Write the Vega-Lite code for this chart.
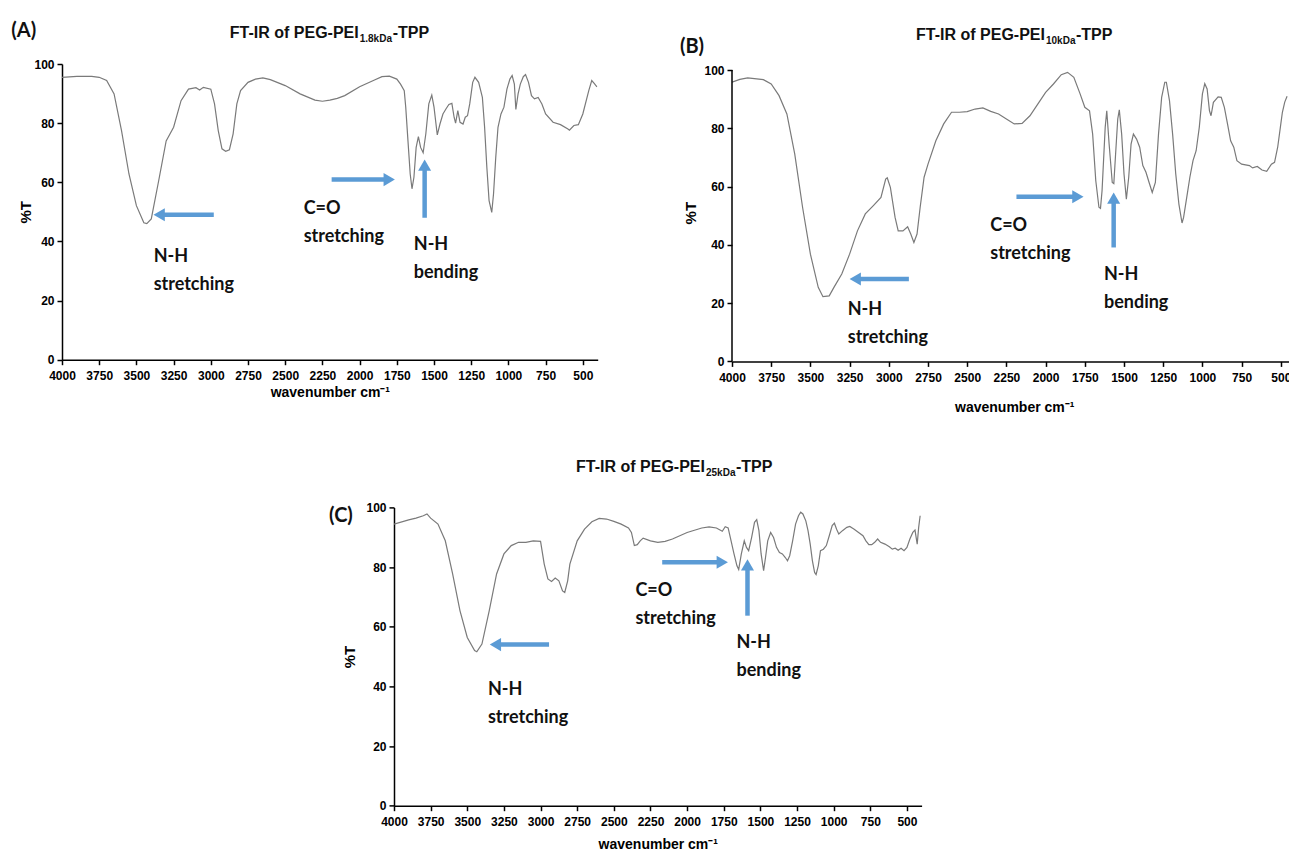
{
  "$schema": "https://vega.github.io/schema/vega-lite/v6.json",
  "background": "white",
  "padding": {"left": 11, "top": 20, "right": 0, "bottom": 4},
  "bounds": "flush",
  "spacing": 443.4,
  "config": {
    "view": {"stroke": null},
    "axis": {
      "grid": false,
      "domainColor": "black",
      "domainWidth": 1.5,
      "tickColor": "black",
      "tickWidth": 1.5,
      "tickSize": 5,
      "labelColor": "black",
      "labelFont": "Liberation Sans",
      "labelFontWeight": "bold",
      "labelFontSize": 12,
      "titleColor": "black",
      "titleFont": "Liberation Sans",
      "titleFontWeight": "bold",
      "labelOverlap": false,
      "labelFlush": false
    }
  },
  "datasets": {
    "specA": [
      {"wn": 4000, "T": 95.5}, {"wn": 3900, "T": 95.8}, {"wn": 3800, "T": 95.8}, {"wn": 3750, "T": 95.5},
      {"wn": 3700, "T": 94.4}, {"wn": 3650, "T": 89.9}, {"wn": 3600, "T": 77.5}, {"wn": 3550, "T": 62.8},
      {"wn": 3500, "T": 52.1}, {"wn": 3450, "T": 46.3}, {"wn": 3430, "T": 46.0}, {"wn": 3400, "T": 47.6},
      {"wn": 3350, "T": 60.6}, {"wn": 3300, "T": 74.0}, {"wn": 3250, "T": 78.6}, {"wn": 3200, "T": 87.6},
      {"wn": 3150, "T": 91.5}, {"wn": 3100, "T": 92.0}, {"wn": 3075, "T": 91.2}, {"wn": 3050, "T": 92.1},
      {"wn": 3000, "T": 91.5}, {"wn": 2975, "T": 86.5}, {"wn": 2950, "T": 77.5}, {"wn": 2925, "T": 71.3},
      {"wn": 2900, "T": 70.5}, {"wn": 2875, "T": 71.0}, {"wn": 2850, "T": 76.4}, {"wn": 2825, "T": 86.5},
      {"wn": 2800, "T": 91.0}, {"wn": 2750, "T": 93.8}, {"wn": 2700, "T": 94.9}, {"wn": 2650, "T": 95.3},
      {"wn": 2600, "T": 94.7}, {"wn": 2500, "T": 92.7}, {"wn": 2400, "T": 89.9}, {"wn": 2300, "T": 87.8},
      {"wn": 2250, "T": 87.4}, {"wn": 2200, "T": 87.8}, {"wn": 2150, "T": 88.4}, {"wn": 2100, "T": 89.3},
      {"wn": 2000, "T": 92.3}, {"wn": 1900, "T": 94.6}, {"wn": 1850, "T": 95.7}, {"wn": 1800, "T": 95.9},
      {"wn": 1750, "T": 94.9}, {"wn": 1725, "T": 93.2}, {"wn": 1700, "T": 91.0}, {"wn": 1690, "T": 85.4},
      {"wn": 1675, "T": 74.0}, {"wn": 1660, "T": 62.8}, {"wn": 1648, "T": 57.8}, {"wn": 1635, "T": 61.7},
      {"wn": 1620, "T": 71.8}, {"wn": 1605, "T": 75.4}, {"wn": 1590, "T": 71.8}, {"wn": 1573, "T": 70.0},
      {"wn": 1555, "T": 76.4}, {"wn": 1535, "T": 86.5}, {"wn": 1515, "T": 89.5}, {"wn": 1500, "T": 85.4},
      {"wn": 1478, "T": 76.0}, {"wn": 1460, "T": 79.7}, {"wn": 1440, "T": 83.1}, {"wn": 1420, "T": 84.8},
      {"wn": 1400, "T": 86.3}, {"wn": 1380, "T": 86.7}, {"wn": 1365, "T": 82.0}, {"wn": 1355, "T": 80.0},
      {"wn": 1340, "T": 84.2}, {"wn": 1325, "T": 80.3}, {"wn": 1305, "T": 79.7}, {"wn": 1290, "T": 82.0},
      {"wn": 1275, "T": 82.5}, {"wn": 1260, "T": 86.5}, {"wn": 1240, "T": 93.8}, {"wn": 1225, "T": 95.5},
      {"wn": 1200, "T": 93.8}, {"wn": 1175, "T": 88.7}, {"wn": 1160, "T": 78.6}, {"wn": 1145, "T": 65.1},
      {"wn": 1130, "T": 53.8}, {"wn": 1112, "T": 49.8}, {"wn": 1100, "T": 56.1}, {"wn": 1085, "T": 68.5},
      {"wn": 1070, "T": 78.6}, {"wn": 1050, "T": 83.1}, {"wn": 1030, "T": 85.4}, {"wn": 1010, "T": 91.5},
      {"wn": 990, "T": 94.9}, {"wn": 975, "T": 96.1}, {"wn": 960, "T": 93.2}, {"wn": 950, "T": 84.6},
      {"wn": 935, "T": 89.9}, {"wn": 920, "T": 93.2}, {"wn": 900, "T": 95.7}, {"wn": 885, "T": 96.4},
      {"wn": 865, "T": 93.8}, {"wn": 845, "T": 89.3}, {"wn": 825, "T": 88.2}, {"wn": 800, "T": 88.7},
      {"wn": 775, "T": 86.5}, {"wn": 750, "T": 83.1}, {"wn": 700, "T": 80.3}, {"wn": 650, "T": 79.5},
      {"wn": 600, "T": 78.0}, {"wn": 590, "T": 77.6}, {"wn": 560, "T": 79.2}, {"wn": 530, "T": 79.5},
      {"wn": 500, "T": 83.1}, {"wn": 460, "T": 91.0}, {"wn": 440, "T": 94.4}, {"wn": 425, "T": 93.5},
      {"wn": 405, "T": 92.3}
    ],
    "specB": [
      {"wn": 4000, "T": 95.8}, {"wn": 3950, "T": 96.8}, {"wn": 3900, "T": 97.3}, {"wn": 3800, "T": 96.7},
      {"wn": 3750, "T": 95.2}, {"wn": 3700, "T": 91.2}, {"wn": 3650, "T": 84.9}, {"wn": 3600, "T": 71.2},
      {"wn": 3550, "T": 52.9}, {"wn": 3500, "T": 36.8}, {"wn": 3450, "T": 25.4}, {"wn": 3420, "T": 22.2},
      {"wn": 3380, "T": 22.5}, {"wn": 3350, "T": 25.4}, {"wn": 3300, "T": 30.0}, {"wn": 3250, "T": 36.8},
      {"wn": 3200, "T": 44.8}, {"wn": 3150, "T": 50.6}, {"wn": 3100, "T": 53.4}, {"wn": 3050, "T": 56.3},
      {"wn": 3020, "T": 62.6}, {"wn": 3010, "T": 63.0}, {"wn": 2990, "T": 59.7}, {"wn": 2960, "T": 49.4},
      {"wn": 2940, "T": 44.8}, {"wn": 2910, "T": 44.8}, {"wn": 2880, "T": 46.2}, {"wn": 2860, "T": 43.7},
      {"wn": 2840, "T": 40.8}, {"wn": 2820, "T": 43.7}, {"wn": 2800, "T": 52.9}, {"wn": 2775, "T": 63.2},
      {"wn": 2750, "T": 67.7}, {"wn": 2700, "T": 75.7}, {"wn": 2650, "T": 81.5}, {"wn": 2600, "T": 85.5},
      {"wn": 2550, "T": 85.5}, {"wn": 2500, "T": 85.7}, {"wn": 2450, "T": 86.6}, {"wn": 2400, "T": 87.0},
      {"wn": 2350, "T": 85.8}, {"wn": 2300, "T": 84.9}, {"wn": 2250, "T": 83.2}, {"wn": 2200, "T": 81.5},
      {"wn": 2150, "T": 81.7}, {"wn": 2100, "T": 84.3}, {"wn": 2050, "T": 88.3}, {"wn": 2000, "T": 92.3},
      {"wn": 1950, "T": 95.2}, {"wn": 1900, "T": 98.4}, {"wn": 1860, "T": 99.2}, {"wn": 1820, "T": 97.5},
      {"wn": 1780, "T": 91.8}, {"wn": 1750, "T": 87.2}, {"wn": 1720, "T": 86.0}, {"wn": 1700, "T": 78.0},
      {"wn": 1680, "T": 62.0}, {"wn": 1660, "T": 52.9}, {"wn": 1650, "T": 52.5}, {"wn": 1640, "T": 58.6},
      {"wn": 1620, "T": 80.3}, {"wn": 1610, "T": 86.0}, {"wn": 1595, "T": 74.6}, {"wn": 1575, "T": 61.4},
      {"wn": 1565, "T": 61.0}, {"wn": 1555, "T": 70.0}, {"wn": 1540, "T": 83.2}, {"wn": 1530, "T": 86.3},
      {"wn": 1515, "T": 78.0}, {"wn": 1500, "T": 64.3}, {"wn": 1485, "T": 55.7}, {"wn": 1470, "T": 63.2},
      {"wn": 1455, "T": 74.6}, {"wn": 1440, "T": 78.0}, {"wn": 1420, "T": 76.3}, {"wn": 1400, "T": 73.5},
      {"wn": 1380, "T": 67.2}, {"wn": 1360, "T": 64.9}, {"wn": 1340, "T": 61.4}, {"wn": 1320, "T": 58.0},
      {"wn": 1300, "T": 61.4}, {"wn": 1280, "T": 78.0}, {"wn": 1260, "T": 90.6}, {"wn": 1240, "T": 95.8},
      {"wn": 1230, "T": 95.8}, {"wn": 1210, "T": 89.5}, {"wn": 1190, "T": 78.0}, {"wn": 1170, "T": 64.3},
      {"wn": 1150, "T": 54.0}, {"wn": 1130, "T": 47.5}, {"wn": 1120, "T": 49.4}, {"wn": 1100, "T": 56.3},
      {"wn": 1080, "T": 63.2}, {"wn": 1060, "T": 68.9}, {"wn": 1040, "T": 72.3}, {"wn": 1020, "T": 80.3},
      {"wn": 1000, "T": 91.8}, {"wn": 985, "T": 95.3}, {"wn": 970, "T": 93.5}, {"wn": 955, "T": 86.0},
      {"wn": 945, "T": 84.3}, {"wn": 930, "T": 88.9}, {"wn": 900, "T": 90.8}, {"wn": 880, "T": 90.6},
      {"wn": 860, "T": 87.2}, {"wn": 840, "T": 81.5}, {"wn": 820, "T": 75.7}, {"wn": 800, "T": 73.5},
      {"wn": 780, "T": 68.9}, {"wn": 750, "T": 67.7}, {"wn": 700, "T": 67.2}, {"wn": 680, "T": 66.4},
      {"wn": 650, "T": 66.9}, {"wn": 620, "T": 65.7}, {"wn": 590, "T": 65.2}, {"wn": 560, "T": 67.7},
      {"wn": 540, "T": 68.3}, {"wn": 520, "T": 73.5}, {"wn": 500, "T": 81.5}, {"wn": 490, "T": 85.5},
      {"wn": 475, "T": 89.0}, {"wn": 460, "T": 91.0}
    ],
    "specC": [
      {"wn": 4000, "T": 94.4}, {"wn": 3900, "T": 95.8}, {"wn": 3850, "T": 96.4}, {"wn": 3800, "T": 97.2},
      {"wn": 3775, "T": 97.8}, {"wn": 3750, "T": 96.4}, {"wn": 3700, "T": 94.4}, {"wn": 3650, "T": 88.8},
      {"wn": 3600, "T": 77.7}, {"wn": 3550, "T": 65.4}, {"wn": 3500, "T": 56.4}, {"wn": 3450, "T": 52.0},
      {"wn": 3435, "T": 51.6}, {"wn": 3400, "T": 54.2}, {"wn": 3350, "T": 65.4}, {"wn": 3300, "T": 77.7},
      {"wn": 3250, "T": 84.4}, {"wn": 3200, "T": 87.2}, {"wn": 3150, "T": 88.3}, {"wn": 3100, "T": 88.3},
      {"wn": 3050, "T": 88.8}, {"wn": 3000, "T": 88.6}, {"wn": 2975, "T": 81.0}, {"wn": 2950, "T": 76.0},
      {"wn": 2925, "T": 75.2}, {"wn": 2900, "T": 76.3}, {"wn": 2875, "T": 75.4}, {"wn": 2850, "T": 72.0},
      {"wn": 2835, "T": 71.5}, {"wn": 2815, "T": 75.4}, {"wn": 2800, "T": 81.0}, {"wn": 2750, "T": 88.8},
      {"wn": 2700, "T": 92.7}, {"wn": 2650, "T": 95.2}, {"wn": 2600, "T": 96.3}, {"wn": 2550, "T": 96.1},
      {"wn": 2500, "T": 95.3}, {"wn": 2450, "T": 94.4}, {"wn": 2400, "T": 93.1}, {"wn": 2380, "T": 91.6},
      {"wn": 2360, "T": 87.2}, {"wn": 2340, "T": 87.5}, {"wn": 2320, "T": 88.8}, {"wn": 2300, "T": 89.7},
      {"wn": 2250, "T": 88.8}, {"wn": 2200, "T": 88.3}, {"wn": 2150, "T": 88.6}, {"wn": 2100, "T": 89.4},
      {"wn": 2000, "T": 91.6}, {"wn": 1900, "T": 93.1}, {"wn": 1850, "T": 93.5}, {"wn": 1800, "T": 93.1},
      {"wn": 1760, "T": 92.0}, {"wn": 1740, "T": 93.5}, {"wn": 1720, "T": 93.1}, {"wn": 1700, "T": 88.8},
      {"wn": 1680, "T": 84.4}, {"wn": 1660, "T": 80.4}, {"wn": 1648, "T": 79.2}, {"wn": 1630, "T": 84.4},
      {"wn": 1610, "T": 88.8}, {"wn": 1595, "T": 86.6}, {"wn": 1580, "T": 85.5}, {"wn": 1560, "T": 89.9},
      {"wn": 1540, "T": 95.0}, {"wn": 1525, "T": 95.9}, {"wn": 1510, "T": 92.2}, {"wn": 1495, "T": 84.4},
      {"wn": 1478, "T": 78.8}, {"wn": 1465, "T": 83.2}, {"wn": 1450, "T": 88.8}, {"wn": 1430, "T": 91.6},
      {"wn": 1410, "T": 89.9}, {"wn": 1390, "T": 86.6}, {"wn": 1370, "T": 84.9}, {"wn": 1350, "T": 84.4},
      {"wn": 1330, "T": 83.2}, {"wn": 1315, "T": 82.1}, {"wn": 1300, "T": 83.8}, {"wn": 1280, "T": 88.8},
      {"wn": 1260, "T": 94.4}, {"wn": 1240, "T": 97.2}, {"wn": 1225, "T": 98.4}, {"wn": 1210, "T": 97.8},
      {"wn": 1190, "T": 95.5}, {"wn": 1175, "T": 92.2}, {"wn": 1160, "T": 87.7}, {"wn": 1145, "T": 82.1},
      {"wn": 1130, "T": 78.2}, {"wn": 1120, "T": 77.5}, {"wn": 1105, "T": 80.4}, {"wn": 1090, "T": 85.5},
      {"wn": 1070, "T": 86.0}, {"wn": 1050, "T": 87.2}, {"wn": 1030, "T": 90.5}, {"wn": 1010, "T": 93.9},
      {"wn": 995, "T": 94.7}, {"wn": 980, "T": 92.7}, {"wn": 965, "T": 91.1}, {"wn": 940, "T": 92.2},
      {"wn": 910, "T": 93.3}, {"wn": 890, "T": 93.6}, {"wn": 860, "T": 92.7}, {"wn": 830, "T": 91.6},
      {"wn": 800, "T": 90.5}, {"wn": 780, "T": 88.8}, {"wn": 760, "T": 87.5}, {"wn": 740, "T": 87.5},
      {"wn": 720, "T": 88.3}, {"wn": 700, "T": 89.4}, {"wn": 680, "T": 88.3}, {"wn": 650, "T": 87.7},
      {"wn": 620, "T": 86.8}, {"wn": 600, "T": 86.0}, {"wn": 580, "T": 86.3}, {"wn": 560, "T": 85.6},
      {"wn": 540, "T": 86.3}, {"wn": 520, "T": 85.5}, {"wn": 500, "T": 86.6}, {"wn": 480, "T": 89.4},
      {"wn": 460, "T": 91.6}, {"wn": 445, "T": 92.4}, {"wn": 430, "T": 87.7}, {"wn": 420, "T": 93.3},
      {"wn": 410, "T": 97.2}
    ],
    "arrowsA": [
      {"wn": 2980, "T": 49.0, "wn2": 3347, "T2": 49.0, "dir": "triangle-left"},
      {"wn": 2188, "T": 60.9, "wn2": 1801, "T2": 60.9, "dir": "triangle-right"},
      {"wn": 1563, "T": 48.0, "wn2": 1563, "T2": 65.8, "dir": "triangle-up"}
    ],
    "arrowsB": [
      {"wn": 2872, "T": 28.3, "wn2": 3214, "T2": 28.3, "dir": "triangle-left"},
      {"wn": 2186, "T": 56.5, "wn2": 1794, "T2": 56.5, "dir": "triangle-right"},
      {"wn": 1566, "T": 39.1, "wn2": 1566, "T2": 56.0, "dir": "triangle-up"}
    ],
    "arrowsC": [
      {"wn": 2942, "T": 54.0, "wn2": 3308, "T2": 54.0, "dir": "triangle-left"},
      {"wn": 2170, "T": 81.6, "wn2": 1760, "T2": 81.6, "dir": "triangle-right"},
      {"wn": 1588, "T": 63.7, "wn2": 1588, "T2": 80.7, "dir": "triangle-up"}
    ],
    "labelsA": [
      {"wn": 3384, "T": 33.1, "text": "N-H"}, {"wn": 3384, "T": 23.7, "text": "stretching"},
      {"wn": 2376, "T": 49.3, "text": "C=O"}, {"wn": 2376, "T": 39.9, "text": "stretching"},
      {"wn": 1636, "T": 37.2, "text": "N-H"}, {"wn": 1636, "T": 27.7, "text": "bending"}
    ],
    "labelsB": [
      {"wn": 3262, "T": 16.0, "text": "N-H"}, {"wn": 3262, "T": 6.4, "text": "stretching"},
      {"wn": 2353, "T": 44.9, "text": "C=O"}, {"wn": 2353, "T": 35.2, "text": "stretching"},
      {"wn": 1628, "T": 28.0, "text": "N-H"}, {"wn": 1628, "T": 18.4, "text": "bending"}
    ],
    "labelsC": [
      {"wn": 3359, "T": 37.2, "text": "N-H"}, {"wn": 3359, "T": 27.8, "text": "stretching"},
      {"wn": 2353, "T": 70.3, "text": "C=O"}, {"wn": 2353, "T": 60.9, "text": "stretching"},
      {"wn": 1663, "T": 52.8, "text": "N-H"}, {"wn": 1663, "T": 43.4, "text": "bending"}
    ],
    "titleA": [{"wn": 2006, "T": 108.9, "main": "FT-IR of PEG-PEI", "sub": "1.8kDa", "tail": "-TPP", "panel": "(A)", "pwn": 4257, "pT": 111.3}],
    "titleB": [{"wn": 2004, "T": 110.4, "main": "FT-IR of PEG-PEI", "sub": "10kDa", "tail": "-TPP", "panel": "(B)", "pwn": 4255, "pT": 108.0}],
    "titleC": [{"wn": 1878, "T": 111.7, "main": "FT-IR of PEG-PEI", "sub": "25kDa", "tail": "-TPP", "panel": "(C)", "pwn": 4362, "pT": 97.2}],
    "yaxisB": [{"wn": 4000, "T": 0, "T2": 100}],
    "blank": [{"k": 1}]
  },
  "vconcat": [
    {
      "bounds": "flush",
      "spacing": 134,
      "hconcat": [
        {
          "width": 535.7,
          "height": 295.7,
          "layer": [
            {
              "data": {"name": "specA"},
              "mark": {"type": "line", "color": "#7a7a7a", "strokeWidth": 1.2, "clip": true},
              "encoding": {
                "x": {"field": "wn", "type": "quantitative", "scale": {"domain": [4000, 400], "nice": false, "zero": false},
                      "axis": {"values": [4000, 3750, 3500, 3250, 3000, 2750, 2500, 2250, 2000, 1750, 1500, 1250, 1000, 750, 500], "tickCount": 30, "format": "d", "labelOverlap": false, "labelFontSize": 12, "title": "wavenumber cm⁻¹", "titleFontSize": 14, "labelPadding": 6, "titlePadding": 4}},
                "y": {"field": "T", "type": "quantitative", "scale": {"domain": [0, 100], "nice": false, "zero": false},
                      "axis": {"values": [0, 20, 40, 60, 80, 100], "tickCount": 20, "format": "d", "labelOverlap": false, "labelFontSize": 12, "title": "%T", "titleFontSize": 15, "labelPadding": 3, "titlePadding": 0}}
              }
            },
            {
              "data": {"name": "arrowsA"},
              "mark": {"type": "rule", "color": "#5B9BD5", "strokeWidth": 4.5},
              "encoding": {
                "x": {"field": "wn", "type": "quantitative"}, "x2": {"field": "wn2"},
                "y": {"field": "T", "type": "quantitative"}, "y2": {"field": "T2"}
              }
            },
            {
              "data": {"name": "arrowsA"},
              "mark": {"type": "point", "filled": true, "color": "#5B9BD5", "opacity": 1, "size": 170, "strokeWidth": 0},
              "encoding": {
                "x": {"field": "wn2", "type": "quantitative"},
                "y": {"field": "T2", "type": "quantitative"},
                "shape": {"field": "dir", "type": "nominal", "scale": null, "legend": null}
              }
            },
            {
              "data": {"name": "labelsA"},
              "mark": {"type": "text", "align": "left", "baseline": "alphabetic", "font": "Lato", "fontWeight": "bold", "fontSize": 18, "color": "#111111"},
              "encoding": {
                "x": {"field": "wn", "type": "quantitative"},
                "y": {"field": "T", "type": "quantitative"},
                "text": {"field": "text"}
              }
            },
            {
              "data": {"name": "titleA"},
              "mark": {"type": "text", "align": "right", "baseline": "alphabetic", "font": "Liberation Sans", "fontWeight": "bold", "fontSize": 16, "color": "#111111"},
              "encoding": {
                "x": {"field": "wn", "type": "quantitative"},
                "y": {"field": "T", "type": "quantitative"},
                "text": {"field": "main"}
              }
            },
            {
              "data": {"name": "titleA"},
              "mark": {"type": "text", "align": "left", "baseline": "alphabetic", "dx": 1, "dy": 4, "font": "Liberation Sans", "fontWeight": "bold", "fontSize": 10, "color": "#111111"},
              "encoding": {
                "x": {"field": "wn", "type": "quantitative"},
                "y": {"field": "T", "type": "quantitative"},
                "text": {"field": "sub"}
              }
            },
            {
              "data": {"name": "titleA"},
              "mark": {"type": "text", "align": "left", "baseline": "alphabetic", "dx": 34, "font": "Liberation Sans", "fontWeight": "bold", "fontSize": 16, "color": "#111111"},
              "encoding": {
                "x": {"field": "wn", "type": "quantitative"},
                "y": {"field": "T", "type": "quantitative"},
                "text": {"field": "tail"}
              }
            },
            {
              "data": {"name": "titleA"},
              "mark": {"type": "text", "align": "center", "baseline": "middle", "font": "Lato", "fontWeight": "bold", "fontSize": 20, "color": "#111111"},
              "encoding": {
                "x": {"field": "pwn", "type": "quantitative"},
                "y": {"field": "pT", "type": "quantitative"},
                "text": {"field": "panel"}
              }
            }
          ]
        },
        {
          "width": 564.5,
          "height": 297.4,
          "layer": [
            {
              "data": {"name": "specB"},
              "mark": {"type": "line", "color": "#7a7a7a", "strokeWidth": 1.2, "clip": true},
              "encoding": {
                "x": {"field": "wn", "type": "quantitative", "scale": {"domain": [4000, 400], "nice": false, "zero": false},
                      "axis": {"values": [4000, 3750, 3500, 3250, 3000, 2750, 2500, 2250, 2000, 1750, 1500, 1250, 1000, 750, 500], "tickCount": 30, "format": "d", "labelOverlap": false, "labelFontSize": 12, "title": "wavenumber cm⁻¹", "titleFontSize": 14, "labelPadding": 6, "titlePadding": 17}},
                "y": {"field": "T", "type": "quantitative", "scale": {"domain": [0, 102.06], "nice": false, "zero": false},
                      "axis": {"values": [0, 20, 40, 60, 80, 100], "tickCount": 20, "format": "d", "labelOverlap": false, "labelFontSize": 12, "title": "%T", "titleFontSize": 15, "labelPadding": 3, "titlePadding": 5, "domain": false}}
              }
            },
            {
              "data": {"name": "yaxisB"},
              "mark": {"type": "rule", "color": "black", "strokeWidth": 1.5},
              "encoding": {
                "x": {"field": "wn", "type": "quantitative"},
                "y": {"field": "T", "type": "quantitative"}, "y2": {"field": "T2"}
              }
            },
            {
              "data": {"name": "arrowsB"},
              "mark": {"type": "rule", "color": "#5B9BD5", "strokeWidth": 4.5},
              "encoding": {
                "x": {"field": "wn", "type": "quantitative"}, "x2": {"field": "wn2"},
                "y": {"field": "T", "type": "quantitative"}, "y2": {"field": "T2"}
              }
            },
            {
              "data": {"name": "arrowsB"},
              "mark": {"type": "point", "filled": true, "color": "#5B9BD5", "opacity": 1, "size": 170, "strokeWidth": 0},
              "encoding": {
                "x": {"field": "wn2", "type": "quantitative"},
                "y": {"field": "T2", "type": "quantitative"},
                "shape": {"field": "dir", "type": "nominal", "scale": null, "legend": null}
              }
            },
            {
              "data": {"name": "labelsB"},
              "mark": {"type": "text", "align": "left", "baseline": "alphabetic", "font": "Lato", "fontWeight": "bold", "fontSize": 18, "color": "#111111"},
              "encoding": {
                "x": {"field": "wn", "type": "quantitative"},
                "y": {"field": "T", "type": "quantitative"},
                "text": {"field": "text"}
              }
            },
            {
              "data": {"name": "titleB"},
              "mark": {"type": "text", "align": "right", "baseline": "alphabetic", "font": "Liberation Sans", "fontWeight": "bold", "fontSize": 16, "color": "#111111"},
              "encoding": {
                "x": {"field": "wn", "type": "quantitative"},
                "y": {"field": "T", "type": "quantitative"},
                "text": {"field": "main"}
              }
            },
            {
              "data": {"name": "titleB"},
              "mark": {"type": "text", "align": "left", "baseline": "alphabetic", "dx": 1, "dy": 4, "font": "Liberation Sans", "fontWeight": "bold", "fontSize": 10, "color": "#111111"},
              "encoding": {
                "x": {"field": "wn", "type": "quantitative"},
                "y": {"field": "T", "type": "quantitative"},
                "text": {"field": "sub"}
              }
            },
            {
              "data": {"name": "titleB"},
              "mark": {"type": "text", "align": "left", "baseline": "alphabetic", "dx": 31, "font": "Liberation Sans", "fontWeight": "bold", "fontSize": 16, "color": "#111111"},
              "encoding": {
                "x": {"field": "wn", "type": "quantitative"},
                "y": {"field": "T", "type": "quantitative"},
                "text": {"field": "tail"}
              }
            },
            {
              "data": {"name": "titleB"},
              "mark": {"type": "text", "align": "center", "baseline": "middle", "font": "Lato", "fontWeight": "bold", "fontSize": 20, "color": "#111111"},
              "encoding": {
                "x": {"field": "pwn", "type": "quantitative"},
                "y": {"field": "pT", "type": "quantitative"},
                "text": {"field": "panel"}
              }
            }
          ]
        }
      ]
    },
    {
      "bounds": "flush",
      "spacing": 20,
      "hconcat": [
        {
          "width": 311.7,
          "height": 10,
          "data": {"name": "blank"},
          "mark": {"type": "point", "opacity": 0},
          "encoding": {}
        },
        {
          "width": 527.6,
          "height": 298.3,
          "layer": [
            {
              "data": {"name": "specC"},
              "mark": {"type": "line", "color": "#7a7a7a", "strokeWidth": 1.2, "clip": true},
              "encoding": {
                "x": {"field": "wn", "type": "quantitative", "scale": {"domain": [4000, 400], "nice": false, "zero": false},
                      "axis": {"values": [4000, 3750, 3500, 3250, 3000, 2750, 2500, 2250, 2000, 1750, 1500, 1250, 1000, 750, 500], "tickCount": 30, "format": "d", "labelOverlap": false, "labelFontSize": 12, "title": "wavenumber cm⁻¹", "titleFontSize": 14, "labelPadding": 6, "titlePadding": 10}},
                "y": {"field": "T", "type": "quantitative", "scale": {"domain": [0, 100], "nice": false, "zero": false},
                      "axis": {"values": [0, 20, 40, 60, 80, 100], "tickCount": 20, "format": "d", "labelOverlap": false, "labelFontSize": 12, "title": "%T", "titleFontSize": 15, "labelPadding": 3, "titlePadding": 8}}
              }
            },
            {
              "data": {"name": "arrowsC"},
              "mark": {"type": "rule", "color": "#5B9BD5", "strokeWidth": 4.5},
              "encoding": {
                "x": {"field": "wn", "type": "quantitative"}, "x2": {"field": "wn2"},
                "y": {"field": "T", "type": "quantitative"}, "y2": {"field": "T2"}
              }
            },
            {
              "data": {"name": "arrowsC"},
              "mark": {"type": "point", "filled": true, "color": "#5B9BD5", "opacity": 1, "size": 170, "strokeWidth": 0},
              "encoding": {
                "x": {"field": "wn2", "type": "quantitative"},
                "y": {"field": "T2", "type": "quantitative"},
                "shape": {"field": "dir", "type": "nominal", "scale": null, "legend": null}
              }
            },
            {
              "data": {"name": "labelsC"},
              "mark": {"type": "text", "align": "left", "baseline": "alphabetic", "font": "Lato", "fontWeight": "bold", "fontSize": 18, "color": "#111111"},
              "encoding": {
                "x": {"field": "wn", "type": "quantitative"},
                "y": {"field": "T", "type": "quantitative"},
                "text": {"field": "text"}
              }
            },
            {
              "data": {"name": "titleC"},
              "mark": {"type": "text", "align": "right", "baseline": "alphabetic", "font": "Liberation Sans", "fontWeight": "bold", "fontSize": 16, "color": "#111111"},
              "encoding": {
                "x": {"field": "wn", "type": "quantitative"},
                "y": {"field": "T", "type": "quantitative"},
                "text": {"field": "main"}
              }
            },
            {
              "data": {"name": "titleC"},
              "mark": {"type": "text", "align": "left", "baseline": "alphabetic", "dx": 1, "dy": 4, "font": "Liberation Sans", "fontWeight": "bold", "fontSize": 10, "color": "#111111"},
              "encoding": {
                "x": {"field": "wn", "type": "quantitative"},
                "y": {"field": "T", "type": "quantitative"},
                "text": {"field": "sub"}
              }
            },
            {
              "data": {"name": "titleC"},
              "mark": {"type": "text", "align": "left", "baseline": "alphabetic", "dx": 31, "font": "Liberation Sans", "fontWeight": "bold", "fontSize": 16, "color": "#111111"},
              "encoding": {
                "x": {"field": "wn", "type": "quantitative"},
                "y": {"field": "T", "type": "quantitative"},
                "text": {"field": "tail"}
              }
            },
            {
              "data": {"name": "titleC"},
              "mark": {"type": "text", "align": "center", "baseline": "middle", "font": "Lato", "fontWeight": "bold", "fontSize": 20, "color": "#111111"},
              "encoding": {
                "x": {"field": "pwn", "type": "quantitative"},
                "y": {"field": "pT", "type": "quantitative"},
                "text": {"field": "panel"}
              }
            }
          ]
        }
      ]
    }
  ]
}
